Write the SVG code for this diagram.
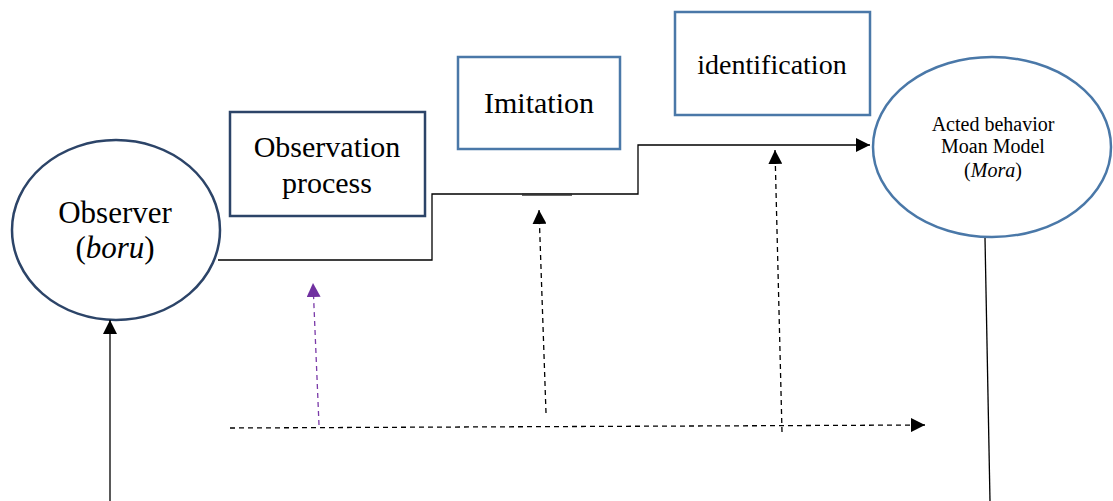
<svg xmlns="http://www.w3.org/2000/svg" width="1113" height="501" viewBox="0 0 1113 501">
<style>
text{font-family:"Liberation Serif","Times New Roman",serif;fill:#000;text-anchor:middle}
.dark{fill:none;stroke:#2c4468;stroke-width:2.5}
.light{fill:none;stroke:#4a78a8;stroke-width:2.5}
.solid{fill:none;stroke:#000;stroke-width:1.3}
.dash{fill:none;stroke:#000;stroke-width:1.3;stroke-dasharray:5,4}
.pdash{fill:none;stroke:#7a3aa8;stroke-width:1.3;stroke-dasharray:5,4}
</style>
<defs>
<marker id="ah" viewBox="0 0 10 10" refX="10" refY="5" markerWidth="14" markerHeight="14" markerUnits="userSpaceOnUse" orient="auto"><path d="M0,0L10,5L0,10z" fill="#000"/></marker>
<marker id="ahp" viewBox="0 0 10 10" refX="10" refY="5" markerWidth="14" markerHeight="14" markerUnits="userSpaceOnUse" orient="auto"><path d="M0,0L10,5L0,10z" fill="#7030a0"/></marker>
</defs>
<rect width="1113" height="501" fill="#fff"/>
<g id="observer">
<ellipse class="dark" cx="116" cy="230" rx="104" ry="90"/>
<text x="115" y="223" font-size="31">Observer</text>
<text x="115" y="258" font-size="31">(<tspan font-style="italic">boru</tspan>)</text>
</g>
<g id="observation">
<rect class="dark" x="230" y="112" width="195" height="104"/>
<text x="327" y="157" font-size="30">Observation</text>
<text x="327" y="193" font-size="30">process</text>
</g>
<g id="imitation">
<rect class="light" x="458" y="57" width="162" height="92"/>
<text x="539" y="113" font-size="30">Imitation</text>
</g>
<g id="identification">
<rect class="light" x="675" y="12" width="195" height="103"/>
<text x="772" y="74" font-size="28">identification</text>
</g>
<g id="acted">
<ellipse class="light" cx="992" cy="147" rx="119" ry="90"/>
<text x="993" y="131" font-size="20">Acted behavior</text>
<text x="993" y="153" font-size="20">Moan Model</text>
<text x="993" y="177" font-size="20">(<tspan font-style="italic">Mora</tspan>)</text>
</g>
<g id="connectors">
<path class="solid" d="M218,260H432V194H638V145H870" marker-end="url(#ah)"/>
<line x1="522" y1="194.5" x2="572" y2="194.5" stroke="#333" stroke-width="2.5"/>
<line class="dash" x1="230" y1="428" x2="925" y2="425" marker-end="url(#ah)"/>
<line class="pdash" x1="319" y1="425" x2="313" y2="283" marker-end="url(#ahp)"/>
<line class="dash" x1="546" y1="413" x2="539" y2="210" marker-end="url(#ah)"/>
<line class="dash" x1="782" y1="432" x2="775" y2="150" marker-end="url(#ah)"/>
<line class="solid" x1="110" y1="501" x2="110" y2="320" marker-end="url(#ah)"/>
<line class="solid" x1="985" y1="238" x2="990" y2="501"/>
</g>
</svg>
